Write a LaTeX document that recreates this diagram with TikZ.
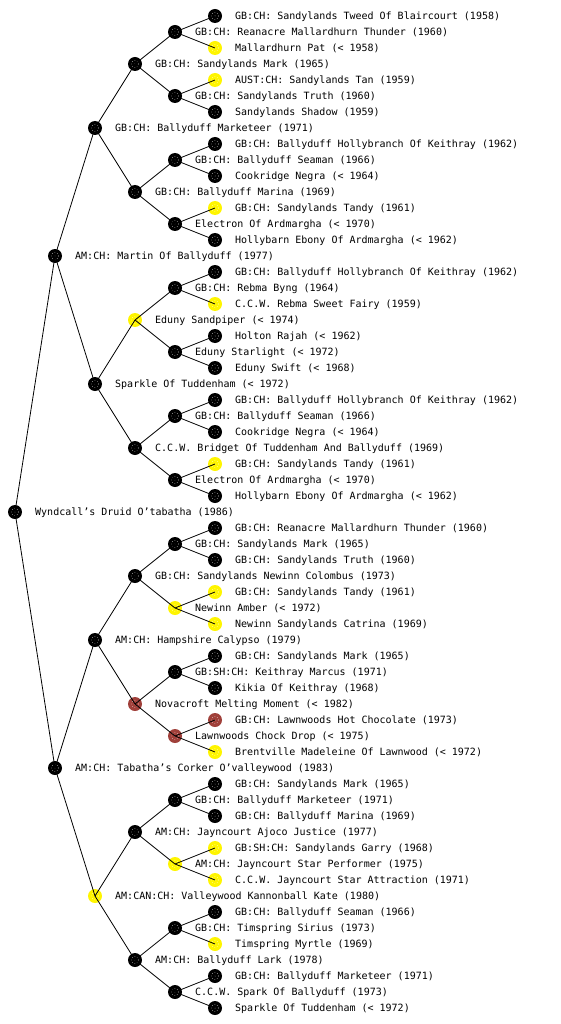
\documentclass[tikz,border=0pt]{standalone}
\usepackage{fontspec}
\setmonofont{DejaVu Sans Mono}
\definecolor{yel}{RGB}{255,245,0}
\definecolor{brn}{RGB}{160,64,58}
\newcommand\pnode[5]{%
  \node[mk, fill=#4] (#1) at ({15+40*#2}, {-16*#3}) {};
  \node[lbl] (#1t) at ({35+40*#2}, {-16*#3-3.6}) {#5};
}
\begin{document}
\begin{tikzpicture}[x=1pt,y=1pt,
  mk/.style={circle, inner sep=0pt, minimum size=14pt, draw=none,
    path picture={\draw[white, opacity=0.6, dotted, line width=0.6pt] (path picture bounding box.center) circle (3.5pt);
                  \fill[white, opacity=0.6] (path picture bounding box.center) circle (0.5pt);}},
  lbl/.style={anchor=base west, inner sep=0pt, font=\ttfamily\fontsize{10}{12}\selectfont},
  edge/.style={line width=0.8pt, black}]
\useasboundingbox (0,0) rectangle (560,-1024);
\pnode{r}{0}{32}{black}{Wyndcall’s Druid O’tabatha (1986)}
\pnode{ra}{1}{16}{black}{AM:CH: Martin Of Ballyduff (1977)}
\pnode{raa}{2}{8}{black}{GB:CH: Ballyduff Marketeer (1971)}
\pnode{raaa}{3}{4}{black}{GB:CH: Sandylands Mark (1965)}
\pnode{raaaa}{4}{2}{black}{GB:CH: Reanacre Mallardhurn Thunder (1960)}
\pnode{raaaaa}{5}{1}{black}{GB:CH: Sandylands Tweed Of Blaircourt (1958)}
\pnode{raaaab}{5}{3}{yel}{Mallardhurn Pat (< 1958)}
\pnode{raaab}{4}{6}{black}{GB:CH: Sandylands Truth (1960)}
\pnode{raaaba}{5}{5}{yel}{AUST:CH: Sandylands Tan (1959)}
\pnode{raaabb}{5}{7}{black}{Sandylands Shadow (1959)}
\pnode{raab}{3}{12}{black}{GB:CH: Ballyduff Marina (1969)}
\pnode{raaba}{4}{10}{black}{GB:CH: Ballyduff Seaman (1966)}
\pnode{raabaa}{5}{9}{black}{GB:CH: Ballyduff Hollybranch Of Keithray (1962)}
\pnode{raabab}{5}{11}{black}{Cookridge Negra (< 1964)}
\pnode{raabb}{4}{14}{black}{Electron Of Ardmargha (< 1970)}
\pnode{raabba}{5}{13}{yel}{GB:CH: Sandylands Tandy (1961)}
\pnode{raabbb}{5}{15}{black}{Hollybarn Ebony Of Ardmargha (< 1962)}
\pnode{rab}{2}{24}{black}{Sparkle Of Tuddenham (< 1972)}
\pnode{raba}{3}{20}{yel}{Eduny Sandpiper (< 1974)}
\pnode{rabaa}{4}{18}{black}{GB:CH: Rebma Byng (1964)}
\pnode{rabaaa}{5}{17}{black}{GB:CH: Ballyduff Hollybranch Of Keithray (1962)}
\pnode{rabaab}{5}{19}{yel}{C.C.W. Rebma Sweet Fairy (1959)}
\pnode{rabab}{4}{22}{black}{Eduny Starlight (< 1972)}
\pnode{rababa}{5}{21}{black}{Holton Rajah (< 1962)}
\pnode{rababb}{5}{23}{black}{Eduny Swift (< 1968)}
\pnode{rabb}{3}{28}{black}{C.C.W. Bridget Of Tuddenham And Ballyduff (1969)}
\pnode{rabba}{4}{26}{black}{GB:CH: Ballyduff Seaman (1966)}
\pnode{rabbaa}{5}{25}{black}{GB:CH: Ballyduff Hollybranch Of Keithray (1962)}
\pnode{rabbab}{5}{27}{black}{Cookridge Negra (< 1964)}
\pnode{rabbb}{4}{30}{black}{Electron Of Ardmargha (< 1970)}
\pnode{rabbba}{5}{29}{yel}{GB:CH: Sandylands Tandy (1961)}
\pnode{rabbbb}{5}{31}{black}{Hollybarn Ebony Of Ardmargha (< 1962)}
\pnode{rb}{1}{48}{black}{AM:CH: Tabatha’s Corker O’valleywood (1983)}
\pnode{rba}{2}{40}{black}{AM:CH: Hampshire Calypso (1979)}
\pnode{rbaa}{3}{36}{black}{GB:CH: Sandylands Newinn Colombus (1973)}
\pnode{rbaaa}{4}{34}{black}{GB:CH: Sandylands Mark (1965)}
\pnode{rbaaaa}{5}{33}{black}{GB:CH: Reanacre Mallardhurn Thunder (1960)}
\pnode{rbaaab}{5}{35}{black}{GB:CH: Sandylands Truth (1960)}
\pnode{rbaab}{4}{38}{yel}{Newinn Amber (< 1972)}
\pnode{rbaaba}{5}{37}{yel}{GB:CH: Sandylands Tandy (1961)}
\pnode{rbaabb}{5}{39}{yel}{Newinn Sandylands Catrina (1969)}
\pnode{rbab}{3}{44}{brn}{Novacroft Melting Moment (< 1982)}
\pnode{rbaba}{4}{42}{black}{GB:SH:CH: Keithray Marcus (1971)}
\pnode{rbabaa}{5}{41}{black}{GB:CH: Sandylands Mark (1965)}
\pnode{rbabab}{5}{43}{black}{Kikia Of Keithray (1968)}
\pnode{rbabb}{4}{46}{brn}{Lawnwoods Chock Drop (< 1975)}
\pnode{rbabba}{5}{45}{brn}{GB:CH: Lawnwoods Hot Chocolate (1973)}
\pnode{rbabbb}{5}{47}{yel}{Brentville Madeleine Of Lawnwood (< 1972)}
\pnode{rbb}{2}{56}{yel}{AM:CAN:CH: Valleywood Kannonball Kate (1980)}
\pnode{rbba}{3}{52}{black}{AM:CH: Jayncourt Ajoco Justice (1977)}
\pnode{rbbaa}{4}{50}{black}{GB:CH: Ballyduff Marketeer (1971)}
\pnode{rbbaaa}{5}{49}{black}{GB:CH: Sandylands Mark (1965)}
\pnode{rbbaab}{5}{51}{black}{GB:CH: Ballyduff Marina (1969)}
\pnode{rbbab}{4}{54}{yel}{AM:CH: Jayncourt Star Performer (1975)}
\pnode{rbbaba}{5}{53}{yel}{GB:SH:CH: Sandylands Garry (1968)}
\pnode{rbbabb}{5}{55}{yel}{C.C.W. Jayncourt Star Attraction (1971)}
\pnode{rbbb}{3}{60}{black}{AM:CH: Ballyduff Lark (1978)}
\pnode{rbbba}{4}{58}{black}{GB:CH: Timspring Sirius (1973)}
\pnode{rbbbaa}{5}{57}{black}{GB:CH: Ballyduff Seaman (1966)}
\pnode{rbbbab}{5}{59}{yel}{Timspring Myrtle (1969)}
\pnode{rbbbb}{4}{62}{black}{C.C.W. Spark Of Ballyduff (1973)}
\pnode{rbbbba}{5}{61}{black}{GB:CH: Ballyduff Marketeer (1971)}
\pnode{rbbbbb}{5}{63}{black}{Sparkle Of Tuddenham (< 1972)}
\foreach \p in {r,ra,rb,raa,rab,rba,rbb,raaa,raab,raba,rabb,rbaa,rbab,rbba,rbbb,
  raaaa,raaab,raaba,raabb,rabaa,rabab,rabba,rabbb,rbaaa,rbaab,rbaba,rbabb,rbbaa,rbbab,rbbba,rbbbb}
  {\draw[edge] (\p.center) -- (\p a.center) (\p.center) -- (\p b.center);}
\end{tikzpicture}
\end{document}
